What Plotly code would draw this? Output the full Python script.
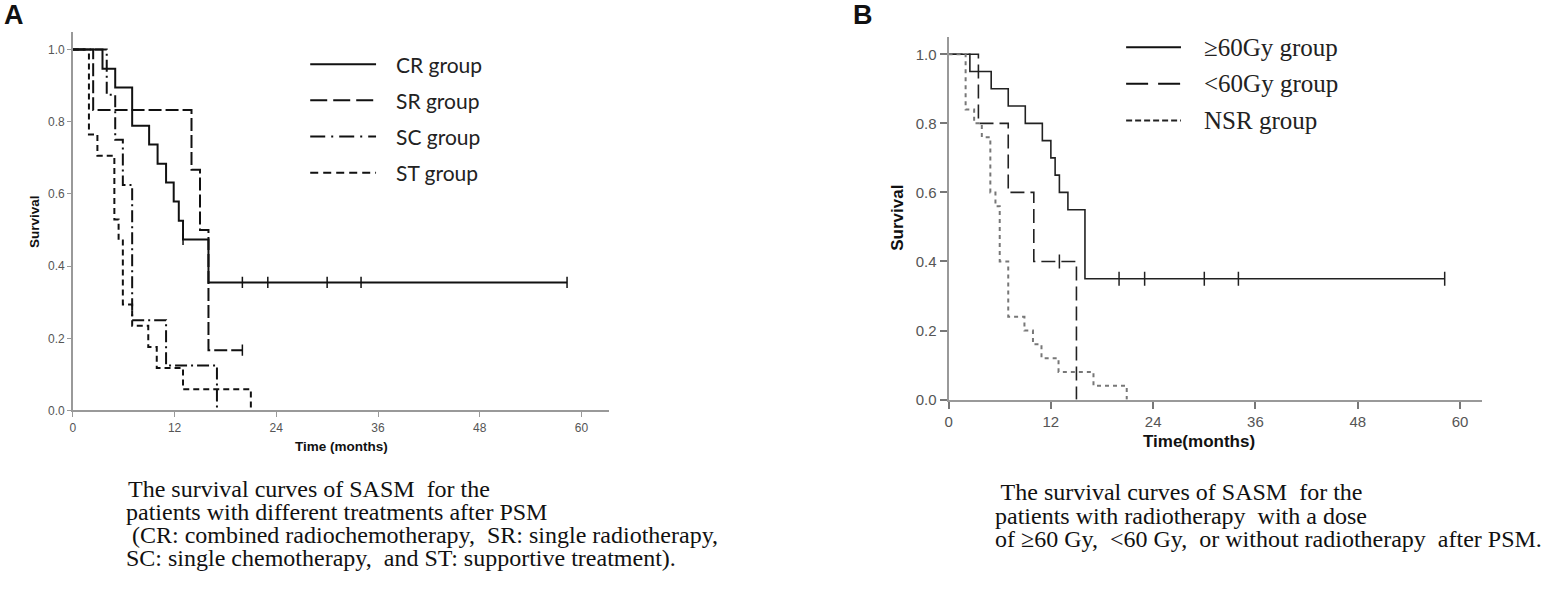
import plotly.graph_objects as go
from plotly.subplots import make_subplots

# ---- data (months, survival) ----
# Panel A: treatment groups
cr_t = [3.5, 5.0, 7.0, 9.0, 10.0, 11.0, 11.9, 12.5, 13.0, 16.0]
cr_s = [0.947, 0.895, 0.789, 0.737, 0.684, 0.632, 0.579, 0.526, 0.474, 0.355]
cr_cens_t = [13.0, 20.0, 23.0, 30.0, 34.0, 58.3]
cr_cens_s = [0.474, 0.355, 0.355, 0.355, 0.355, 0.355]

sr_t = [2.4, 14.0, 15.0, 16.0]
sr_s = [0.833, 0.667, 0.5, 0.167]
sr_cens_t = [20.0]
sr_cens_s = [0.167]

sc_t = [4.0, 5.0, 5.9, 7.0, 11.0, 17.0]
sc_s = [0.875, 0.75, 0.625, 0.25, 0.125, 0.0]

st_t = [1.9, 2.9, 4.9, 5.4, 5.9, 7.0, 8.9, 9.9, 13.0, 21.0]
st_s = [0.765, 0.706, 0.529, 0.471, 0.294, 0.235, 0.176, 0.118, 0.059, 0.0]

# Panel B: radiotherapy dose groups
hi_t = [2.5, 5.0, 7.0, 9.0, 11.0, 12.0, 12.5, 13.0, 14.0, 16.0]
hi_s = [0.95, 0.9, 0.85, 0.8, 0.75, 0.7, 0.65, 0.6, 0.55, 0.35]
hi_cens_t = [20.0, 23.0, 30.0, 34.0, 58.2]
hi_cens_s = [0.35, 0.35, 0.35, 0.35, 0.35]

lo_t = [3.5, 7.0, 10.0, 15.0]
lo_s = [0.8, 0.6, 0.4, 0.0]
lo_cens_t = [13.0]
lo_cens_s = [0.4]

nsr_t = [2.0, 3.0, 3.9, 4.9, 5.5, 6.0, 7.0, 8.9, 9.9, 10.9, 12.9, 17.0, 20.9]
nsr_s = [0.84, 0.8, 0.76, 0.6, 0.56, 0.4, 0.24, 0.2, 0.16, 0.12, 0.08, 0.04, 0.0]

x_ticks = [0, 12, 24, 36, 48, 60]
y_ticks = [0.0, 0.2, 0.4, 0.6, 0.8, 1.0]

labels_a = ["CR group", "SR group", "SC group", "ST group"]
labels_b = ["\u226560Gy group", "<60Gy group", "NSR group"]

caption_a = [
    "The survival curves of SASM  for the",
    "patients with different treatments after PSM",
    " (CR: combined radiochemotherapy,  SR: single radiotherapy,",
    "SC: single chemotherapy,  and ST: supportive treatment).",
]
caption_b = [
    " The survival curves of SASM  for the",
    "patients with radiotherapy  with a dose",
    "of \u226560 Gy,  <60 Gy,  or without radiotherapy  after PSM.",
]

W, H = 1559, 603


def px(x):
    return x / W


def py(y):
    return 1 - y / H


def km_xy(t, s, end=None):
    xs = [0] + list(t)
    ys = [1.0] + list(s)
    if end is not None and end > xs[-1]:
        xs.append(end)
        ys.append(ys[-1])
    return xs, ys


fig = make_subplots(rows=1, cols=2)

# panel A curves
styles_a = [
    (cr_t, cr_s, cr_cens_t, cr_cens_s, "solid"),
    (sr_t, sr_s, sr_cens_t, sr_cens_s, "13px,4px"),
    (sc_t, sc_s, [], [], "12px,4px,2px,4px"),
    (st_t, st_s, [], [], "6px,4px"),
]
for t, s, ct, cs, dash in styles_a:
    end = max(ct) if ct else None
    xs, ys = km_xy(t, s, end)
    fig.add_trace(go.Scatter(x=xs, y=ys, mode="lines", line_shape="hv",
                             line=dict(color="#111", width=2, dash=dash),
                             showlegend=False), row=1, col=1)
    if ct:
        fig.add_trace(go.Scatter(x=ct, y=cs, mode="markers",
                                 marker=dict(symbol="line-ns-open", size=8,
                                             color="#111",
                                             line=dict(color="#111", width=1.5)),
                                 showlegend=False), row=1, col=1)

# panel B curves
styles_b = [
    (hi_t, hi_s, hi_cens_t, hi_cens_s, "solid", "#222", 1.6),
    (lo_t, lo_s, lo_cens_t, lo_cens_s, "14px,6px", "#222", 1.6),
    (nsr_t, nsr_s, [], [], "4px,4px", "#777", 2),
]
for t, s, ct, cs, dash, color, w in styles_b:
    end = max(ct) if ct else None
    xs, ys = km_xy(t, s, end)
    fig.add_trace(go.Scatter(x=xs, y=ys, mode="lines", line_shape="hv",
                             line=dict(color=color, width=w, dash=dash),
                             showlegend=False), row=1, col=2)
    if ct:
        fig.add_trace(go.Scatter(x=ct, y=cs, mode="markers",
                                 marker=dict(symbol="line-ns-open", size=10,
                                             color=color,
                                             line=dict(color=color, width=1.5)),
                                 showlegend=False), row=1, col=2)

axis_common = dict(showline=True, showgrid=False, zeroline=False,
                   ticks="outside", fixedrange=True)

fig.update_xaxes(domain=[px(69), px(607)], range=[0, 63.3], tickvals=x_ticks,
                 linecolor="#999", linewidth=1.5, tickcolor="#999", ticklen=5,
                 tickfont=dict(family="Liberation Sans", size=12, color="#555"),
                 **axis_common, row=1, col=1)
fig.update_yaxes(domain=[py(416), py(32)], range=[0, 1.05], tickvals=y_ticks,
                 tickformat=".1f", linecolor="#999", linewidth=1.5,
                 tickcolor="#999", ticklen=4,
                 tickfont=dict(family="Liberation Sans", size=12, color="#555"),
                 **axis_common, row=1, col=1)
fig.update_xaxes(domain=[px(947), px(1482)], range=[0, 62.6], tickvals=x_ticks,
                 linecolor="#999", linewidth=2, tickcolor="#777", ticklen=7,
                 tickwidth=2,
                 tickfont=dict(family="Liberation Sans", size=15, color="#555"),
                 **axis_common, row=1, col=2)
fig.update_yaxes(domain=[py(405), py(37.5)], range=[0, 1.05], tickvals=y_ticks,
                 tickformat=".1f", linecolor="#999", linewidth=2,
                 tickcolor="#777", ticklen=7, tickwidth=2,
                 tickfont=dict(family="Liberation Sans", size=15, color="#555"),
                 **axis_common, row=1, col=2)

ann = []
shapes = []

# panel letters
ann.append(dict(x=px(10), y=py(15), text="<b>A</b>", font=dict(size=27)))
ann.append(dict(x=px(861), y=py(15), text="<b>B</b>", font=dict(size=27)))

# axis titles
ann.append(dict(x=px(30), y=py(224), text="<b>Survival</b>", textangle=-90,
                font=dict(size=13.5)))
ann.append(dict(x=px(338), y=py(452), text="<b>Time (months)</b>",
                font=dict(size=13.5)))
ann.append(dict(x=px(895), y=py(221), text="<b>Survival</b>", textangle=-90,
                font=dict(size=17)))
ann.append(dict(x=px(1198), y=py(447), text="<b>Time(months)</b>",
                font=dict(size=17)))

# legend keys, panel A
key_dash_a = ["solid", "17px,6px", "15px,6px,2px,6px", "8px,5px"]
for i, (lab, dash) in enumerate(zip(labels_a, key_dash_a)):
    yy = 65 + i * 36.7
    shapes.append(dict(type="line", xref="paper", yref="paper",
                       x0=px(307), x1=px(373), y0=py(yy), y1=py(yy),
                       line=dict(color="#111", width=2, dash=dash)))
    ann.append(dict(x=px(391), y=py(yy), text=lab, xanchor="left",
                    font=dict(family="Lato", size=21, color="#222")))

# legend keys, panel B
key_dash_b = [("solid", "#111"), ("22px,10px", "#111"), ("6px,3px", "#222")]
for i, (lab, (dash, col)) in enumerate(zip(labels_b, key_dash_b)):
    yy = 48 + i * 37
    shapes.append(dict(type="line", xref="paper", yref="paper",
                       x0=px(1125), x1=px(1180), y0=py(yy), y1=py(yy),
                       line=dict(color=col, width=2, dash=dash)))
    ann.append(dict(x=px(1201), y=py(yy), text=lab, xanchor="left",
                    font=dict(family="Liberation Serif", size=25, color="#222")))

# captions
starts_a = [122, 120, 120, 120]
for i, line in enumerate(caption_a):
    ann.append(dict(x=px(starts_a[i]), y=py(496 + i * 23.3), text=line,
                    xanchor="left",
                    font=dict(family="Liberation Serif", size=24, color="#111")))
starts_b = [992, 992, 992]
for i, line in enumerate(caption_b):
    ann.append(dict(x=px(starts_b[i]), y=py(499 + i * 23.5), text=line,
                    xanchor="left",
                    font=dict(family="Liberation Serif", size=24, color="#111")))

for a in ann:
    a.setdefault("xref", "paper")
    a.setdefault("yref", "paper")
    a.setdefault("showarrow", False)
    a.setdefault("xanchor", "center")
    a.setdefault("yanchor", "middle")
    f = a["font"]
    f.setdefault("family", "Liberation Sans")
    f.setdefault("color", "#111")

fig.update_layout(
    width=W, height=H,
    margin=dict(l=0, r=0, t=0, b=0),
    paper_bgcolor="white", plot_bgcolor="white",
    annotations=ann, shapes=shapes,
    showlegend=False,
)

# pin the figure to the page corner (no default body margin, no scrollbars)
page_fix = (
    "document.documentElement.style.margin='0';"
    "document.body.style.margin='0';"
    "document.documentElement.style.overflow='hidden';"
    "document.body.style.overflow='hidden';"
    "var gd=document.getElementsByClassName('plotly-graph-div')[0];"
    "gd.style.display='block';"
)
fig.write_html("out.html", config={"displayModeBar": False},
               post_script=page_fix)
